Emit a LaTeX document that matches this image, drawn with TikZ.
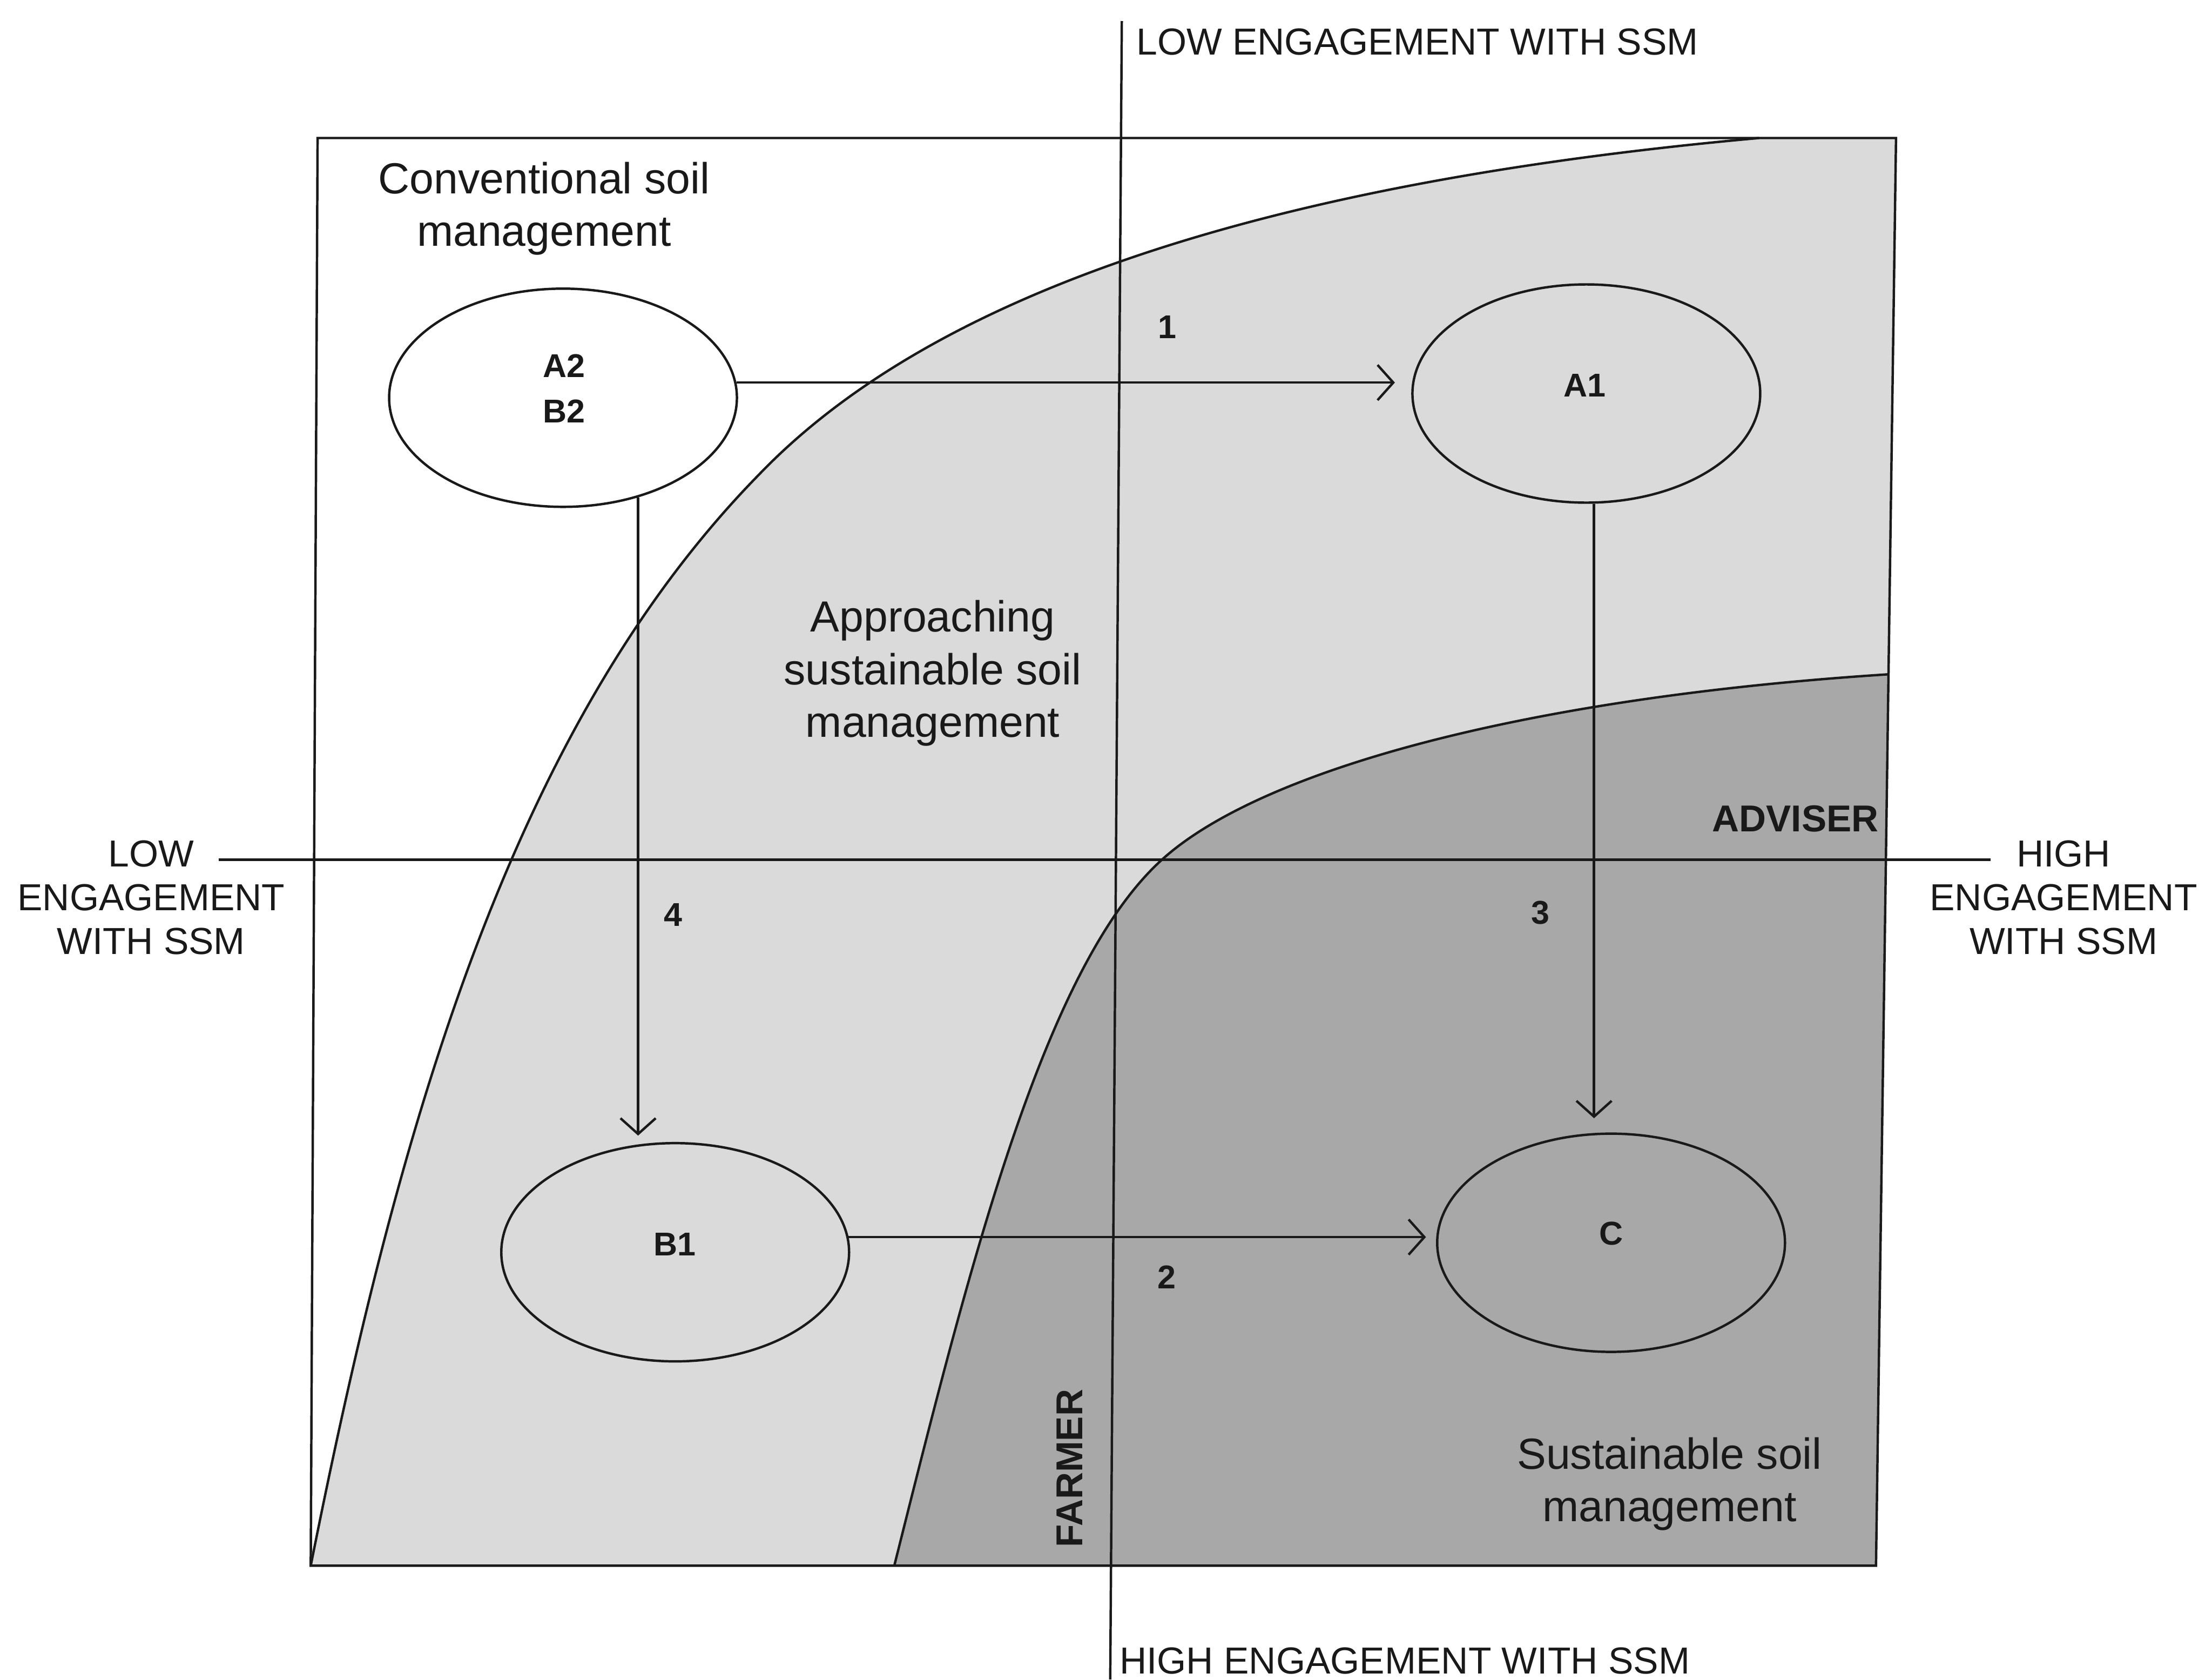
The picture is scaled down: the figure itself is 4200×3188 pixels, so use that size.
\documentclass[tikz,border=0pt]{standalone}
\usepackage{fontspec}
\setmainfont{Liberation Sans}
\usetikzlibrary{arrows.meta,shapes.geometric}
\definecolor{zonelight}{RGB}{218,218,218}
\definecolor{zonedark}{RGB}{168,168,168}
\definecolor{ink}{RGB}{25,25,25}

\begin{document}
\begin{tikzpicture}[x=0.01cm,y=-0.01cm,
  line/.style={draw=ink,line width=1.3pt},
  flow/.style={line,-{Straight Barb[length=8.5pt,width=19pt,line width=1.3pt]}},
  state/.style={ellipse,draw=ink,line width=1.3pt,inner sep=0pt,
                minimum width=6.6cm,minimum height=4.14cm},
  axislbl/.style={font=\fontsize{20.3pt}{23.6pt}\selectfont,text=ink,inner sep=0pt,align=center},
  zonelbl/.style={font=\fontsize{23.5pt}{28.5pt}\selectfont,text=ink,inner sep=0pt,align=center},
  tag/.style={font=\fontsize{17.8pt}{24.5pt}\selectfont\bfseries,text=ink,inner sep=0pt,align=center},
  actor/.style={font=\fontsize{20.2pt}{24pt}\selectfont\bfseries,text=ink,inner sep=0pt},
]
% page
\fill[white] (0,0) rectangle (4200,3188);
\useasboundingbox (0,0) rectangle (4200,3188);

% boundary curves of the two zones
\def\lightedge{(590,2972) .. controls (750,2170) and (962,1390) .. (1440,902)
               .. controls (1785,542) and (2444,343) .. (3340,262)}
\def\darkedge{(1698,2972) .. controls (1844,2390) and (1984,1833) .. (2206,1632)
              .. controls (2391,1464) and (2886,1325) .. (3585,1280)}

% zones: approaching (light) and sustainable (dark)
\fill[zonelight] \lightedge -- (3600,262) -- (3562,2972) -- cycle;
\fill[zonedark] \darkedge -- (3562,2972) -- cycle;

% axes
\draw[line] (2130,40) -- (2108,3188);
\draw[line] (415,1632) -- (3780,1632);

% zone boundaries
\draw[line] \lightedge;
\draw[line] \darkedge;

% frame
\draw[line] (603,262) -- (3600,262) -- (3562,2972) -- (590,2972) -- cycle;

% states
\node[state] (a2b2) at (1069,755) {};
\node[state] (a1) at (3012,747) {};
\node[state] (b1) at (1282,2377) {};
\node[state] (c) at (3059,2359) {};

\node[tag] (a2b2txt) at (1071,737) {A2\\B2};
\node[tag] (a1txt) at (3009,732) {A1};
\node[tag] (b1txt) at (1281,2362) {B1};
\node[tag] (ctxt) at (3059,2341) {C};

% pathways
\draw[flow,shorten >=0.31cm] (a2b2.5) -- (a1.west |- a2b2.5);
\draw[flow,shorten >=0.19cm] (b1.5) -- (c.west |- b1.5);
\draw[flow,shorten >=0.27cm] (a1.-86) -- (c.north -| a1.-86);
\draw[flow,shorten >=0.12cm] (a2b2.-53) -- (b1.north -| a2b2.-53);

\node[tag] (n1) at (2216,621) {1};
\node[tag] (n2) at (2215,2424) {2};
\node[tag] (n3) at (2925,1732) {3};
\node[tag] (n4) at (1278,1736) {4};

% zone names
\node[zonelbl] (conv) at (1033,396) {Conventional soil\\management};
\node[zonelbl] (appr) at (1771,1278) {Approaching\\sustainable soil\\management};
\node[zonelbl] (sust) at (3170,2817) {Sustainable soil\\management};

% actors
\node[actor] (adviser) at (3409,1554) {ADVISER};
\node[actor,rotate=90] (farmer) at (2031,2787) {FARMER};

% axis ends
\node[axislbl,anchor=west] (top) at (2157,80) {LOW ENGAGEMENT WITH SSM};
\node[axislbl,anchor=west] (bottom) at (2125,3153) {HIGH ENGAGEMENT WITH SSM};
\node[axislbl] (left) at (287,1704) {LOW\\ENGAGEMENT\\WITH SSM};
\node[axislbl] (right) at (3918,1704) {HIGH\\ENGAGEMENT\\WITH SSM};
\end{tikzpicture}
\end{document}
